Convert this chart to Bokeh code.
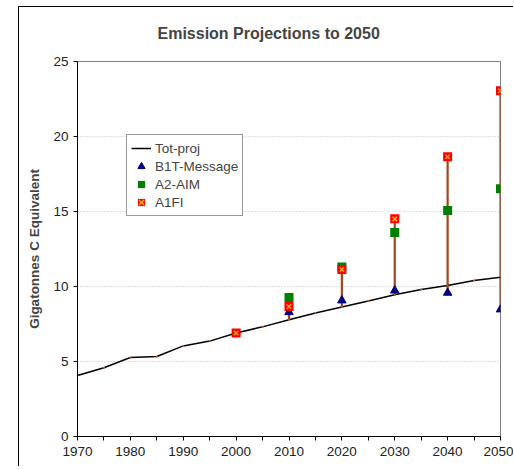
from bokeh.plotting import figure
from bokeh.models import Range1d, FixedTicker, Legend, LegendItem
from bokeh.embed import file_html
from bokeh.resources import INLINE

# ---- data ----
years_tot = [1970, 1975, 1980, 1985, 1990, 1995, 2000, 2005, 2010, 2015,
             2020, 2025, 2030, 2035, 2040, 2045, 2050]
tot_proj = [4.07, 4.58, 5.27, 5.33, 6.04, 6.36, 6.9, 7.31, 7.78, 8.24,
            8.64, 9.04, 9.45, 9.8, 10.07, 10.4, 10.62]

years_proj = [2010, 2020, 2030, 2040, 2050]
b1t_message = [8.29, 9.07, 9.73, 9.58, 8.47]
a2_aim = [9.27, 11.3, 13.6, 15.07, 16.51]

years_a1fi = [2000, 2010, 2020, 2030, 2040, 2050]
a1fi = [6.9, 8.67, 11.13, 14.51, 18.65, 23.05]

x_ticks = [1970, 1980, 1990, 2000, 2010, 2020, 2030, 2040, 2050]
x_minor = [1975, 1985, 1995, 2005, 2015, 2025, 2035, 2045]
y_ticks = [0, 5, 10, 15, 20, 25]

# high-low lines across all series
tot_map = dict(zip(years_tot, tot_proj))
a1_map = dict(zip(years_a1fi, a1fi))
hl_low, hl_high = [], []
for i, yr in enumerate(years_proj):
    vals = [tot_map[yr], b1t_message[i], a2_aim[i], a1_map[yr]]
    hl_low.append(min(vals))
    hl_high.append(max(vals))

FONT = "Liberation Sans"

p = figure(frame_width=423, frame_height=375,
           x_range=Range1d(1970, 2050), y_range=Range1d(0, 25),
           output_backend="svg", toolbar_location=None,
           min_border_left=58, min_border_top=54, min_border_bottom=30,
           min_border_right=13, margin=(6, 0, 0, 18))
p.styles = {"border-left": "1px solid black", "border-top": "1px solid black"}

p.title.text = "Emission Projections to 2050"
p.title.text_font = FONT
p.title.text_font_size = "16px"
p.title.text_font_style = "bold"
p.title.align = "left"
p.title.vertical_align = "top"
p.title.offset = 80
p.title.standoff = 35

p.outline_line_color = "#808080"
p.outline_line_width = 1
p.background_fill_color = "white"
p.border_fill_color = "white"

p.xgrid.grid_line_color = None
p.ygrid.grid_line_color = "#c0c0c0"
p.ygrid.grid_line_dash = "1 2"
p.ygrid.ticker = FixedTicker(ticks=[5, 10, 15, 20])

p.xaxis.ticker = FixedTicker(ticks=x_ticks, minor_ticks=x_minor)
p.yaxis.ticker = FixedTicker(ticks=y_ticks)
for ax in (p.xaxis, p.yaxis):
    ax.axis_line_color = "black"
    ax.major_tick_line_color = "black"
    ax.minor_tick_line_color = "black"
    ax.major_tick_in = 0
    ax.major_tick_out = 4
    ax.minor_tick_in = 0
    ax.minor_tick_out = 4
    ax.major_label_text_font = FONT
    ax.major_label_text_font_size = "13.5px"
    ax.major_label_text_color = "#222222"
p.yaxis.minor_tick_line_color = None
p.xaxis.major_label_standoff = 6
p.yaxis.major_label_standoff = 5
p.yaxis.axis_label = "Gigatonnes C Equivalent"
p.yaxis.axis_label_text_font = FONT
p.yaxis.axis_label_text_font_size = "13.5px"
p.yaxis.axis_label_text_font_style = "bold"
p.yaxis.axis_label_standoff = 8

# high-low lines
p.segment(x0=years_proj, y0=hl_low, x1=years_proj, y1=hl_high,
          line_color="#a0461e", line_width=2.2)

# total projection line
r_tot = p.line(years_tot, tot_proj, line_color="black", line_width=1.5)
p.scatter(years_tot, tot_proj, marker="circle", size=2,
          fill_color="#d06020", line_color=None)

r_b1 = p.scatter(years_proj, b1t_message, marker="triangle", size=8.5,
                 fill_color="#000080", line_color="#000080")
r_a2 = p.scatter(years_proj, a2_aim, marker="square", size=9,
                 fill_color="#008000", line_color=None)
r_a1 = p.scatter(years_a1fi, a1fi, marker="square", size=9,
                 fill_color="#ff0000", line_color=None)
r_a1x = p.scatter(years_a1fi, a1fi, marker="x", size=6,
                  line_color="#ffd000", line_width=1.2)

legend = Legend(items=[
    LegendItem(label="Tot-proj", renderers=[r_tot]),
    LegendItem(label="B1T-Message", renderers=[r_b1]),
    LegendItem(label="A2-AIM", renderers=[r_a2]),
    LegendItem(label="A1FI", renderers=[r_a1, r_a1x]),
], location=(49, 220))
legend.label_text_font = FONT
legend.label_text_font_size = "13.5px"
legend.label_standoff = 4
legend.glyph_width = 20
legend.glyph_height = 18
legend.label_height = 18
legend.spacing = 0
legend.padding = 4
legend.margin = 0
legend.border_line_color = "#333333"
legend.border_line_width = 1
legend.background_fill_alpha = 1
p.add_layout(legend, "center")

open("out.html", "w").write(file_html(p, INLINE))
